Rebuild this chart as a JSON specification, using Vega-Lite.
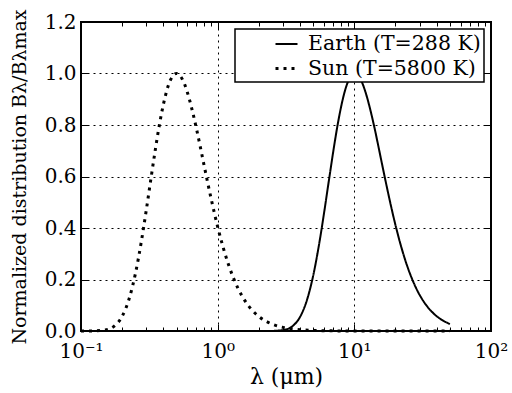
{
  "$schema": "https://vega.github.io/schema/vega-lite/v6.json",
  "width": 410,
  "height": 309,
  "autosize": "none",
  "padding": {"left": 81, "top": 22, "right": 21, "bottom": 62},
  "background": "white",
  "data": {
    "values": [
      {"lam": 0.1, "B": 0.0, "body": "Earth (T=288 K)"},
      {"lam": 1.0, "B": 0.0, "body": "Earth (T=288 K)"},
      {"lam": 2.014, "B": 0.0, "body": "Earth (T=288 K)"},
      {"lam": 2.417, "B": 0.0002, "body": "Earth (T=288 K)"},
      {"lam": 3.021, "B": 0.0038, "body": "Earth (T=288 K)"},
      {"lam": 3.524, "B": 0.0188, "body": "Earth (T=288 K)"},
      {"lam": 4.028, "B": 0.0568, "body": "Earth (T=288 K)"},
      {"lam": 4.531, "B": 0.1251, "body": "Earth (T=288 K)"},
      {"lam": 5.035, "B": 0.2225, "body": "Earth (T=288 K)"},
      {"lam": 5.538, "B": 0.3406, "body": "Earth (T=288 K)"},
      {"lam": 6.042, "B": 0.4676, "body": "Earth (T=288 K)"},
      {"lam": 6.545, "B": 0.592, "body": "Earth (T=288 K)"},
      {"lam": 7.049, "B": 0.705, "body": "Earth (T=288 K)"},
      {"lam": 7.552, "B": 0.8016, "body": "Earth (T=288 K)"},
      {"lam": 8.056, "B": 0.878, "body": "Earth (T=288 K)"},
      {"lam": 8.56, "B": 0.935, "body": "Earth (T=288 K)"},
      {"lam": 9.063, "B": 0.973, "body": "Earth (T=288 K)"},
      {"lam": 9.566, "B": 0.9937, "body": "Earth (T=288 K)"},
      {"lam": 10.07, "B": 1.0, "body": "Earth (T=288 K)"},
      {"lam": 11.08, "B": 0.979, "body": "Earth (T=288 K)"},
      {"lam": 12.08, "B": 0.927, "body": "Earth (T=288 K)"},
      {"lam": 13.09, "B": 0.859, "body": "Earth (T=288 K)"},
      {"lam": 14.1, "B": 0.785, "body": "Earth (T=288 K)"},
      {"lam": 15.1, "B": 0.7095, "body": "Earth (T=288 K)"},
      {"lam": 16.11, "B": 0.637, "body": "Earth (T=288 K)"},
      {"lam": 18.13, "B": 0.509, "body": "Earth (T=288 K)"},
      {"lam": 20.14, "B": 0.4047, "body": "Earth (T=288 K)"},
      {"lam": 24.17, "B": 0.258, "body": "Earth (T=288 K)"},
      {"lam": 28.19, "B": 0.1688, "body": "Earth (T=288 K)"},
      {"lam": 32.22, "B": 0.1138, "body": "Earth (T=288 K)"},
      {"lam": 36.25, "B": 0.079, "body": "Earth (T=288 K)"},
      {"lam": 40.28, "B": 0.0564, "body": "Earth (T=288 K)"},
      {"lam": 50.0, "B": 0.027, "body": "Earth (T=288 K)"},
      {"lam": 0.1, "B": 0.0, "body": "Sun (T=5800 K)"},
      {"lam": 0.12, "B": 0.0002, "body": "Sun (T=5800 K)"},
      {"lam": 0.15, "B": 0.0038, "body": "Sun (T=5800 K)"},
      {"lam": 0.175, "B": 0.0188, "body": "Sun (T=5800 K)"},
      {"lam": 0.2, "B": 0.0568, "body": "Sun (T=5800 K)"},
      {"lam": 0.225, "B": 0.1251, "body": "Sun (T=5800 K)"},
      {"lam": 0.25, "B": 0.2225, "body": "Sun (T=5800 K)"},
      {"lam": 0.275, "B": 0.3406, "body": "Sun (T=5800 K)"},
      {"lam": 0.3, "B": 0.4676, "body": "Sun (T=5800 K)"},
      {"lam": 0.325, "B": 0.592, "body": "Sun (T=5800 K)"},
      {"lam": 0.35, "B": 0.705, "body": "Sun (T=5800 K)"},
      {"lam": 0.375, "B": 0.8016, "body": "Sun (T=5800 K)"},
      {"lam": 0.4, "B": 0.878, "body": "Sun (T=5800 K)"},
      {"lam": 0.425, "B": 0.935, "body": "Sun (T=5800 K)"},
      {"lam": 0.45, "B": 0.973, "body": "Sun (T=5800 K)"},
      {"lam": 0.475, "B": 0.9937, "body": "Sun (T=5800 K)"},
      {"lam": 0.5, "B": 1.0, "body": "Sun (T=5800 K)"},
      {"lam": 0.55, "B": 0.979, "body": "Sun (T=5800 K)"},
      {"lam": 0.6, "B": 0.927, "body": "Sun (T=5800 K)"},
      {"lam": 0.65, "B": 0.859, "body": "Sun (T=5800 K)"},
      {"lam": 0.7, "B": 0.785, "body": "Sun (T=5800 K)"},
      {"lam": 0.75, "B": 0.7095, "body": "Sun (T=5800 K)"},
      {"lam": 0.8, "B": 0.637, "body": "Sun (T=5800 K)"},
      {"lam": 0.9, "B": 0.509, "body": "Sun (T=5800 K)"},
      {"lam": 1.0, "B": 0.4047, "body": "Sun (T=5800 K)"},
      {"lam": 1.2, "B": 0.258, "body": "Sun (T=5800 K)"},
      {"lam": 1.4, "B": 0.1688, "body": "Sun (T=5800 K)"},
      {"lam": 1.6, "B": 0.1138, "body": "Sun (T=5800 K)"},
      {"lam": 1.8, "B": 0.079, "body": "Sun (T=5800 K)"},
      {"lam": 2.0, "B": 0.0564, "body": "Sun (T=5800 K)"},
      {"lam": 2.5, "B": 0.0267, "body": "Sun (T=5800 K)"},
      {"lam": 3.0, "B": 0.0142, "body": "Sun (T=5800 K)"},
      {"lam": 4.0, "B": 0.005, "body": "Sun (T=5800 K)"},
      {"lam": 5.0, "B": 0.0022, "body": "Sun (T=5800 K)"},
      {"lam": 7.0, "B": 0.0006, "body": "Sun (T=5800 K)"},
      {"lam": 10.0, "B": 0.0002, "body": "Sun (T=5800 K)"},
      {"lam": 20.0, "B": 0.0, "body": "Sun (T=5800 K)"},
      {"lam": 50.0, "B": 0.0, "body": "Sun (T=5800 K)"}
    ]
  },
  "layer": [
    {
      "mark": {"type": "line", "interpolate": "monotone", "color": "black", "strokeCap": "butt"},
      "encoding": {
        "x": {
          "field": "lam", "type": "quantitative",
          "scale": {"type": "log", "domain": [0.1, 100]},
          "axis": {
            "orient": "bottom",
            "values": [0.1, 1, 10, 100],
            "labelExpr": "datum.value < 0.5 ? '10⁻¹' : datum.value < 5 ? '10⁰' : datum.value < 50 ? '10¹' : '10²'",
            "tickSize": -7, "labelPadding": 17, "grid": true,
            "labelFlush": false, "labelOverlap": false,
            "title": "λ (μm)", "titlePadding": 5, "titleFontSize": 22
          }
        },
        "y": {
          "field": "B", "type": "quantitative",
          "scale": {"domain": [0, 1.2]},
          "axis": {
            "orient": "left",
            "values": [0, 0.2, 0.4, 0.6, 0.8, 1.0, 1.2],
            "format": ".1f",
            "tickSize": -7, "labelPadding": 12, "grid": true,
            "labelFlush": false, "labelOverlap": false,
            "title": "Normalized distribution Bλ/Bλmax", "titlePadding": 15
          }
        },
        "strokeDash": {
          "field": "body", "type": "nominal",
          "scale": {"domain": ["Earth (T=288 K)", "Sun (T=5800 K)"], "range": [[1, 0], [3, 5]]},
          "legend": {"title": null}
        },
        "strokeWidth": {
          "field": "body", "type": "nominal",
          "scale": {"domain": ["Earth (T=288 K)", "Sun (T=5800 K)"], "range": [2, 3]},
          "legend": null
        }
      }
    },
    {
      "mark": {"type": "point", "opacity": 0},
      "encoding": {
        "x": {
          "field": "lam", "type": "quantitative",
          "axis": {
            "orient": "bottom",
            "values": [0.2, 0.3, 0.4, 0.5, 0.6, 0.7, 0.8, 0.9, 2, 3, 4, 5, 6, 7, 8, 9, 20, 30, 40, 50, 60, 70, 80, 90],
            "tickSize": -4, "labels": false, "grid": false, "title": null
          }
        },
        "y": {
          "field": "B", "type": "quantitative",
          "axis": {
            "orient": "right",
            "values": [0, 0.2, 0.4, 0.6, 0.8, 1.0, 1.2],
            "tickSize": -7, "labels": false, "grid": false, "title": null
          }
        }
      }
    },
    {
      "mark": {"type": "point", "opacity": 0},
      "encoding": {
        "x": {
          "field": "lam", "type": "quantitative",
          "axis": {
            "orient": "top",
            "values": [0.1, 1, 10, 100],
            "tickSize": -7, "labels": false, "grid": false, "title": null
          }
        },
        "y": {"field": "B", "type": "quantitative", "axis": null}
      }
    },
    {
      "mark": {"type": "point", "opacity": 0},
      "encoding": {
        "x": {
          "field": "lam", "type": "quantitative",
          "axis": {
            "orient": "top",
            "values": [0.2, 0.3, 0.4, 0.5, 0.6, 0.7, 0.8, 0.9, 2, 3, 4, 5, 6, 7, 8, 9, 20, 30, 40, 50, 60, 70, 80, 90],
            "tickSize": -4, "labels": false, "grid": false, "title": null
          }
        },
        "y": {"field": "B", "type": "quantitative", "axis": null}
      }
    }
  ],
  "resolve": {"axis": {"x": "independent", "y": "independent"}},
  "config": {
    "view": {"stroke": "black", "strokeWidth": 2},
    "axis": {
      "domain": false,
      "labelFont": "DejaVu Serif", "labelFontSize": 20, "labelColor": "black",
      "titleFont": "DejaVu Serif", "titleFontSize": 19, "titleFontWeight": "normal", "titleColor": "black",
      "tickColor": "black", "tickWidth": 1,
      "gridColor": "black", "gridDash": [2, 4], "gridOpacity": 1, "gridWidth": 1
    },
    "legend": {
      "orient": "top-right", "offset": 7,
      "strokeColor": "black", "strokeWidth": 1.5, "fillColor": "white", "padding": 3,
      "labelFont": "DejaVu Serif", "labelFontSize": 20.5, "labelColor": "black",
      "symbolType": "stroke", "symbolStrokeColor": "black", "symbolSize": 484,
      "symbolStrokeWidth": 2.5, "symbolOffset": 36, "rowPadding": 1, "labelOffset": 9, "labelLimit": 400
    }
  }
}
